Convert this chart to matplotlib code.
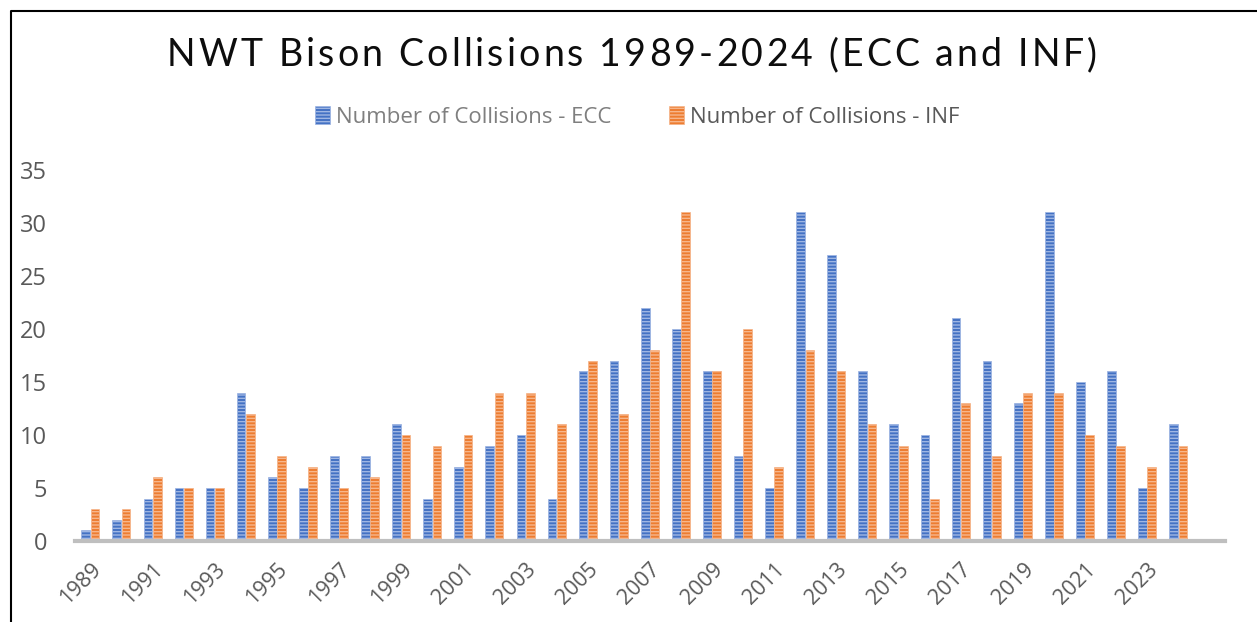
import numpy as np
import matplotlib
matplotlib.use("Agg")
import matplotlib.pyplot as plt
from matplotlib.patches import Patch
from matplotlib.lines import Line2D

# data
years = list(range(1989, 2025))
ecc = [1, 2, 4, 5, 5, 14, 6, 5, 8, 8, 11, 4, 7, 9, 10, 4, 16, 17, 22, 20, 16, 8, 5, 31,
       27, 16, 11, 10, 21, 17, 13, 31, 15, 16, 5, 11]
inf = [3, 3, 6, 5, 5, 12, 8, 7, 5, 6, 10, 9, 10, 14, 14, 11, 17, 12, 18, 31, 16, 20, 7, 18,
       16, 11, 9, 4, 13, 8, 14, 14, 10, 9, 7, 9]
series_names = ["Number of Collisions - ECC", "Number of Collisions - INF"]
title = "NWT Bison Collisions 1989-2024 (ECC and INF)"

blue = "#4472C4"
orange = "#ED7D31"
blue_hatch = "#9fb6e3"
orange_hatch = "#f6b68c"
grey_txt = "#595959"

plt.rcParams['hatch.linewidth'] = 1.0

W, H = 1257, 622
fig = plt.figure(figsize=(W / 100, H / 100), dpi=100)
ax = fig.add_axes([75 / W, 1 - 541 / H, (1225 - 75) / W, (541 - 170) / H])

x = np.arange(len(years))
bw = 0.28
ax.bar(x - 0.155, ecc, bw, color=blue, edgecolor=blue_hatch, linewidth=0.5, hatch='-----')
ax.bar(x + 0.145, inf, bw, color=orange, edgecolor=orange_hatch, linewidth=0.5, hatch='-----')

# one empty slot at the end, like the original category axis
ax.set_xlim(-0.5, len(years) + 0.5)
ax.set_ylim(0, 35)
ax.set_yticks(range(0, 36, 5))

tick_pos = list(range(0, len(years) + 1, 2))
tick_lab = [str(years[0] + p) if p < len(years) else "" for p in tick_pos]
ax.set_xticks(tick_pos)
ax.set_xticklabels(tick_lab, rotation=45, ha='right', rotation_mode='anchor',
                   family='Open Sans', fontsize=15.5, color=grey_txt)
for lab in ax.get_yticklabels():
    lab.set_family('Open Sans')
    lab.set_fontsize(17)
    lab.set_color(grey_txt)
ax.tick_params(axis='x', length=0, pad=13)
ax.tick_params(axis='y', length=0, pad=20)

for s in ['top', 'right', 'left']:
    ax.spines[s].set_visible(False)
ax.spines['bottom'].set_color('#bfbfbf')
ax.spines['bottom'].set_linewidth(3)

# legend
handles = [Patch(facecolor=blue, edgecolor=blue_hatch, hatch='-----', linewidth=0.5),
           Patch(facecolor=orange, edgecolor=orange_hatch, hatch='-----', linewidth=0.5)]
leg = fig.legend(handles, series_names, loc='center', bbox_to_anchor=(637 / W, 1 - 117 / H),
                 ncol=2, frameon=False, handlelength=0.7, handleheight=0.9,
                 handletextpad=0.25, columnspacing=2.6,
                 prop={'family': 'Open Sans', 'size': 16})
leg.get_texts()[0].set_color('#7f7f7f')
leg.get_texts()[1].set_color(grey_txt)

# title with wide letter spacing: place the characters one by one
renderer = fig.canvas.get_renderer()
t_left, t_right, t_base = 167, 1097, H - 66
chars = []
widths = []
for ch in title:
    t = fig.text(0, 0, ch, family='Lato', fontsize=27, color='#0d0d0d',
                 va='baseline', ha='left', transform=None)
    if ch == " ":
        tmp = fig.text(0, 0, "a a", family='Lato', fontsize=27, transform=None)
        tmp2 = fig.text(0, 0, "aa", family='Lato', fontsize=27, transform=None)
        w = tmp.get_window_extent(renderer).width - tmp2.get_window_extent(renderer).width
        tmp.remove()
        tmp2.remove()
    else:
        w = t.get_window_extent(renderer).width
    chars.append(t)
    widths.append(w)
track = (t_right - t_left - sum(widths)) / (len(chars) - 1)
xpos = t_left
for t, w in zip(chars, widths):
    t.set_position((xpos, t_base))
    xpos += w + track

# border of the original chart box
fig.add_artist(Line2D([11 / W, 11 / W, 1.0], [0.0, 1 - 11 / H, 1 - 11 / H],
                      transform=fig.transFigure, color='black', linewidth=1.5))

fig.savefig("out.png", dpi=100)
